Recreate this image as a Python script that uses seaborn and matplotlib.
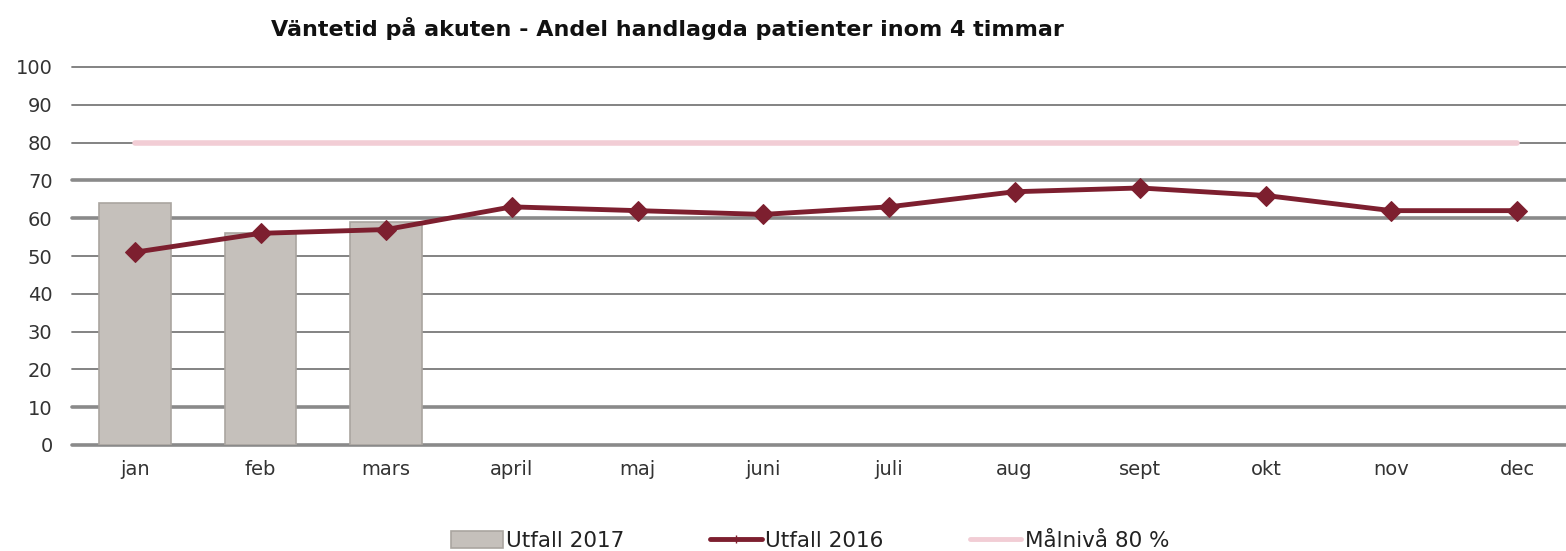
import matplotlib
matplotlib.use("Agg")
import matplotlib.pyplot as plt
import seaborn as sns
import pandas as pd
import numpy as np
from matplotlib.lines import Line2D

months = ["jan", "feb", "mars", "april", "maj", "juni", "juli", "aug", "sept", "okt", "nov", "dec"]
utfall_2017 = [64, 56, 59]
utfall_2016 = [51, 56, 57, 63, 62, 61, 63, 67, 68, 66, 62, 62]
malniva = [80] * 12
yticks = [0, 10, 20, 30, 40, 50, 60, 70, 80, 90, 100]

title = "Väntetid på akuten - Andel handlagda patienter inom 4 timmar"

sns.set_theme(style="white")
plt.rcParams['font.family'] = ['DejaVu Sans']

fig = plt.figure(figsize=(15.66, 5.51), dpi=100)
ax = fig.add_axes([72 / 1566, 1 - 445 / 551, (1580 - 72) / 1566, (445 - 67) / 551])

df17 = pd.DataFrame({"month": months[:len(utfall_2017)], "value": utfall_2017})
df16 = pd.DataFrame({"month": months, "value": utfall_2016})
dfm = pd.DataFrame({"month": months, "value": malniva})

# gridlines
thick = {0, 10, 60, 70}
for y in yticks:
    ax.axhline(y, color="#8a8a8a" if y in thick else "#7a7a7a",
               lw=2.6 if y in thick else 1.3, zorder=0, clip_on=False)

x17 = np.arange(len(utfall_2017))
sns.barplot(x=x17, y=df17["value"], ax=ax, color="#c5c0bb", width=0.57,
            edgecolor="#aaa5a0", linewidth=1.2, saturation=1, native_scale=True,
            label="Utfall 2017", zorder=2)

xs = np.arange(len(months))
sns.lineplot(x=xs, y=dfm["value"], ax=ax, color="#f2cdd5", lw=4, label="Målnivå 80 %", zorder=3)
sns.lineplot(x=xs, y=df16["value"], ax=ax, color="#7d1f2f", lw=3.5, marker="D",
             markersize=10.5, markeredgecolor="#7d1f2f", label="Utfall 2016", zorder=4)

ax.set_xlim(-0.5, len(months) - 0.5)
ax.set_ylim(0, 100)
ax.set_xticks(xs)
ax.set_xticklabels(months)
ax.set_yticks(yticks)
ax.set_yticklabels([str(v) for v in yticks])
ax.tick_params(axis="both", labelsize=14, colors="#333333", length=0)
ax.tick_params(axis="x", pad=11)
ax.tick_params(axis="y", pad=14)
ax.set_xlabel("")
ax.set_ylabel("")
for s in ax.spines.values():
    s.set_visible(False)

fig.text(667 / 1566, 1 - 28 / 551, title, ha="center", va="center", fontsize=16,
         fontweight="bold", color="#111111")

handles, labels = ax.get_legend_handles_labels()
hs = [handles[labels.index("Utfall 2017")],
      Line2D([0], [0], color="#7d1f2f", lw=3.5, marker="|", markersize=6),
      Line2D([0], [0], color="#f2cdd5", lw=3.5)]
ls = ["Utfall 2017", "Utfall 2016", "Målnivå 80 %"]
ax.legend(hs, ls, loc="center", bbox_to_anchor=(810 / 1566, 1 - 541 / 551),
          bbox_transform=fig.transFigure,
          ncol=3, frameon=False, fontsize=15.5, handlelength=2.4, handleheight=0.8,
          handletextpad=0.15, columnspacing=4.0, labelcolor="#222222")

fig.savefig("out.png", dpi=100)
